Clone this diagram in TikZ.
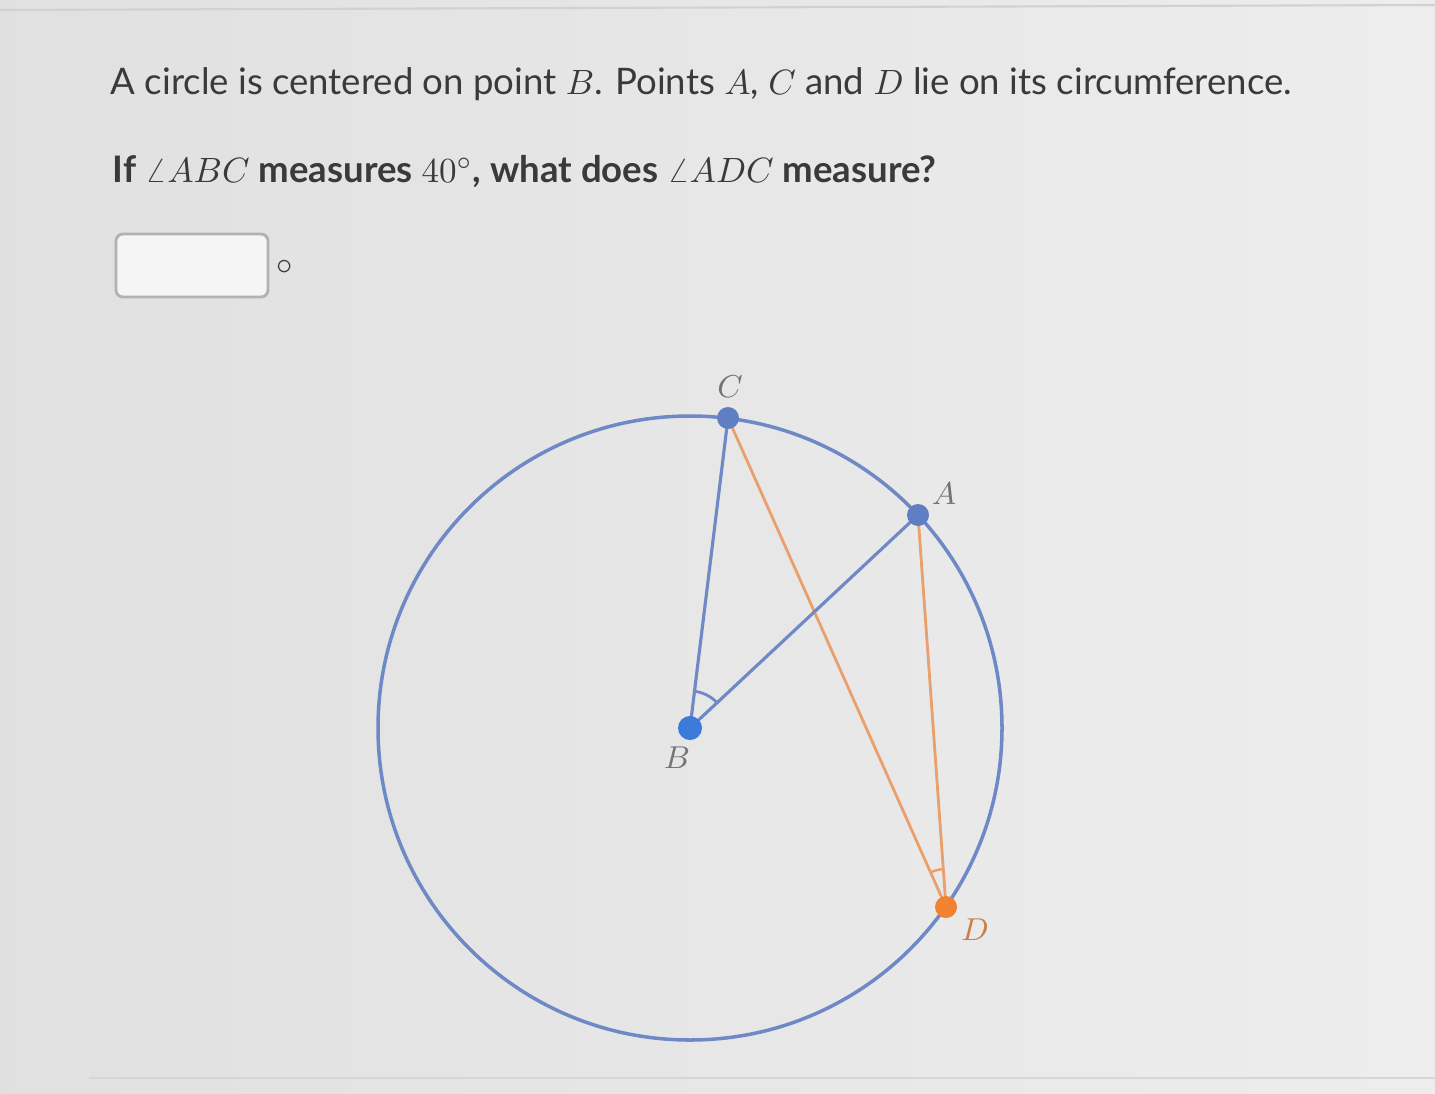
\documentclass[tikz,border=0pt]{standalone}
\usepackage{fontspec}
\setmainfont{Lato}
\definecolor{circblue}{HTML}{6F89C6}
\definecolor{ptblue}{HTML}{5F7FC2}
\definecolor{cenblue}{HTML}{3D7BDA}
\definecolor{chord}{HTML}{E9A06E}
\definecolor{ptorange}{HTML}{F08232}
\definecolor{lab}{HTML}{747474}
\definecolor{txt}{HTML}{3A3A3A}
\begin{document}
\begin{tikzpicture}[line cap=round,
    dotpt/.style={circle,fill=ptblue,inner sep=0pt,minimum size=2.2mm},
    ptlabel/.style={text=lab,font=\fontsize{9.5}{11}\selectfont},
    qtext/.style={anchor=base west,inner sep=0pt,text=txt,font=\fontsize{10.4}{12}\selectfont}]
        \useasboundingbox (0,0) rectangle (14.35,10.93);
        \shade[left color=black!12!white,right color=black!7!white] (0,0) rectangle (14.35,10.93);
        \draw[black!18,line width=0.6pt] (0,10.83) -- (14.35,10.88);
        \draw[black!16,line width=0.6pt] (0.9,0.15) -- (14.35,0.15);
        % question
        \node[qtext] (Q1) at (1.10,9.98) {A circle is centered on point $B$. Points $A$, $C$ and $D$ lie on its circumference.};
        \node[qtext,font=\fontsize{10.4}{12}\selectfont\bfseries] (Q2) at (1.12,9.11) {If $\angle ABC$ measures $40^\circ$, what does $\angle ADC$ measure?};
        \node[draw=black!30,fill=black!4!white,rounded corners=2pt,line width=0.8pt,
              minimum width=15.2mm,minimum height=6.3mm,inner sep=0pt] (ans) at (1.92,8.275) {};
        \node[text=txt,inner sep=0pt,font=\small] (deg) at (2.85,8.26) {$\circ$};
        % figure
        \coordinate (B) at (6.90,3.65);
        \draw[circblue,line width=1pt] (B) circle (3.12);
        \coordinate (C) at (7.28,6.75);
        \coordinate (A) at (9.18,5.78);
        \coordinate (D) at (9.46,1.86);
        \draw[chord,line width=0.8pt] (C) -- (D) -- (A);
        \draw[circblue,line width=0.9pt] (C) -- (B) -- (A);
        \draw[circblue,line width=0.8pt] ([shift=(43:0.37)]B) arc (43:83:0.37);
        \draw[chord,line width=0.7pt] ([shift=(94:0.38)]D) arc (94:114:0.38);
        \node[dotpt] (nC) at (C) {};
        \node[dotpt] (nA) at (A) {};
        \node[dotpt,fill=cenblue,minimum size=2.4mm] (nB) at (B) {};
        \node[dotpt,fill=ptorange] (nD) at (D) {};
        \node[ptlabel] (lC) at (7.30,7.06) {$C$};
        \node[ptlabel] (lA) at (9.44,5.99) {$A$};
        \node[ptlabel] (lB) at (6.77,3.35) {$B$};
        \node[ptlabel,text=ptorange!70!lab] (lD) at (9.75,1.63) {$D$};
\end{tikzpicture}
\end{document}
